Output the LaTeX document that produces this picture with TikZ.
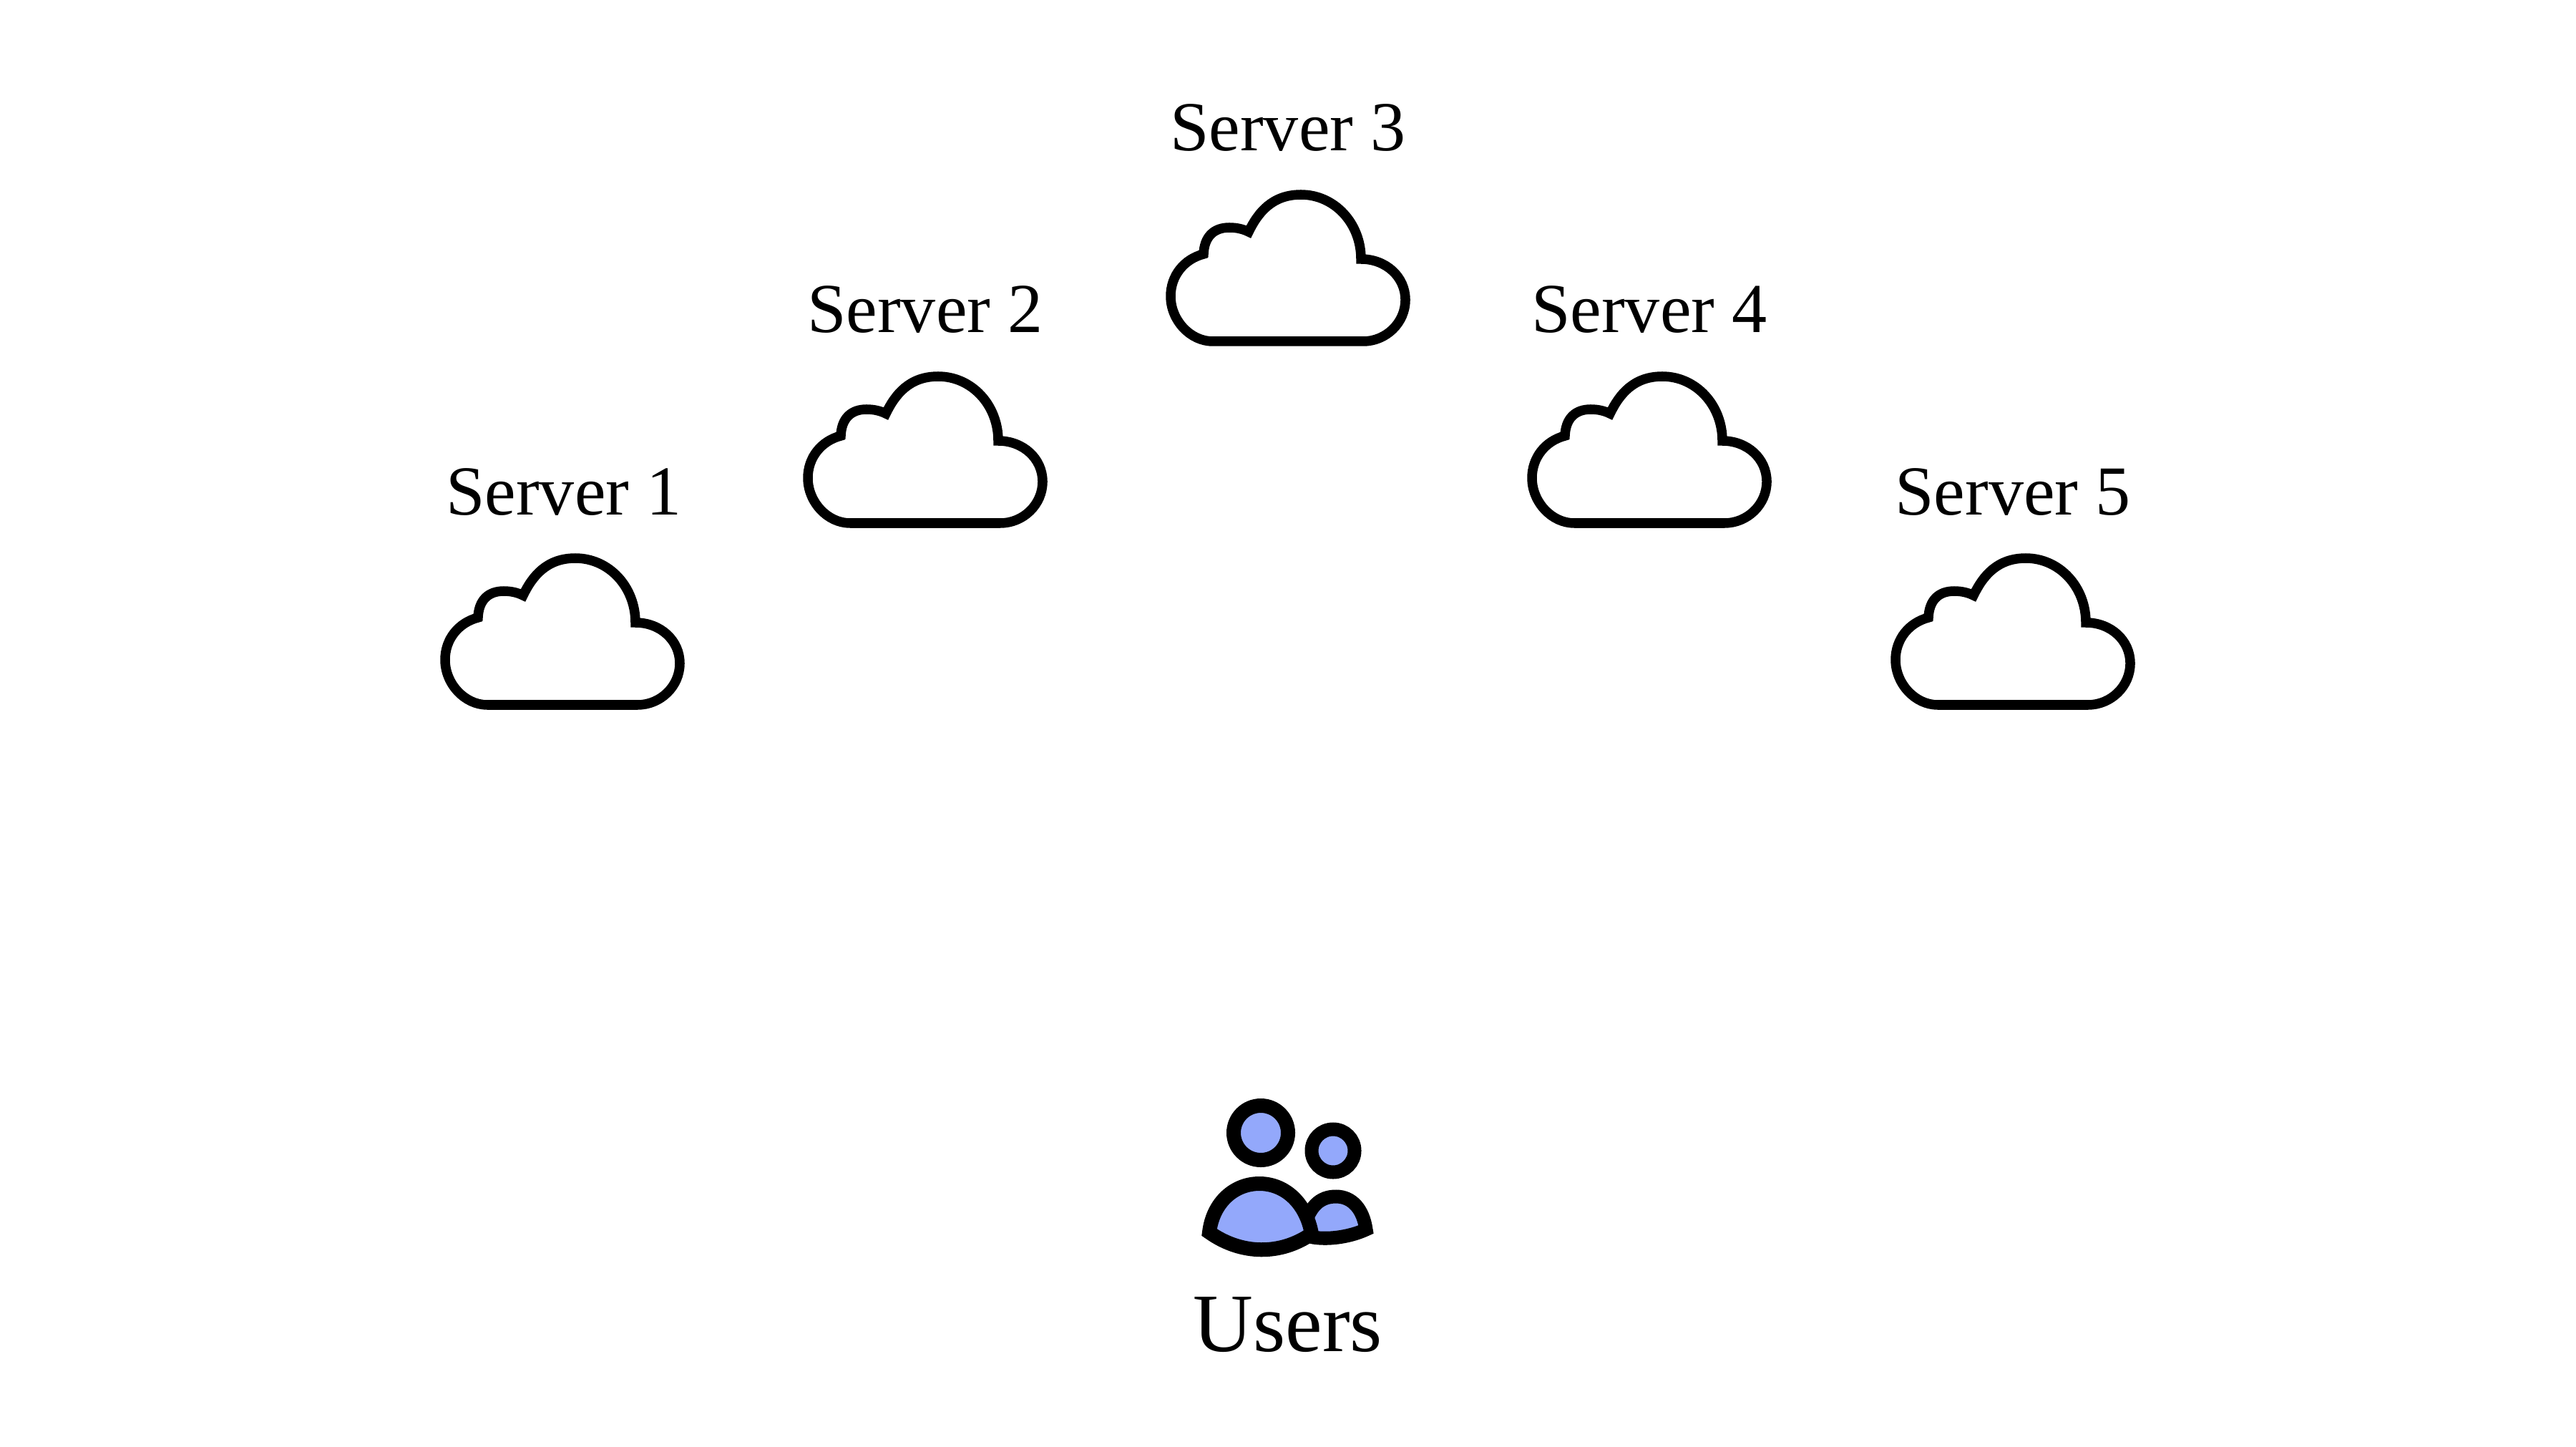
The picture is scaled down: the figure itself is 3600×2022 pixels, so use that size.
\documentclass[tikz,border=0pt]{standalone}
\usepackage{fontspec}
\setmainfont{Liberation Serif}
\definecolor{userblue}{HTML}{93A8FB}
\tikzset{
  x=0.01cm,y=-0.01cm,
  serverlabel/.style={anchor=base,inner sep=0pt,font=\fontsize{27.9}{30}\selectfont},
  userlabel/.style={anchor=base,inner sep=0pt,font=\fontsize{33}{36}\selectfont},
  cloudline/.style={draw=black,line width=0.135cm,line join=miter,fill=white},
  userline/.style={draw=black,fill=userblue,line join=miter,miter limit=10}
}
\newcommand{\cloudicon}[2]{%
  \begin{scope}[shift={(#1,#2)},y=0.01cm]
    \draw[cloudline] (-105,0) -- (105,0)
      .. controls (137,0) and (164,26) .. (164,58)
      .. controls (164,90) and (137,115) .. (102,115)
      .. controls (102,165) and (65,205) .. (18,205)
      .. controls (-22,205) and (-42,180) .. (-55,153)
      .. controls (-63,157) and (-72,159) .. (-82,159)
      .. controls (-104,159) and (-117,146) .. (-118,122)
      .. controls (-145,115) and (-164,92) .. (-164,63)
      .. controls (-164,30) and (-137,0) .. (-105,0) -- cycle;
  \end{scope}}
\begin{document}
\begin{tikzpicture}
\useasboundingbox (0,0) rectangle (3600,2022);
\cloudicon{786}{985}
\cloudicon{1293}{731}
\cloudicon{1800}{477}
\cloudicon{2305}{731}
\cloudicon{2813}{985}
\node[serverlabel] (s1) at (788,719) {Server 1};
\node[serverlabel] (s2) at (1293,465) {Server 2};
\node[serverlabel] (s3) at (1800,211) {Server 3};
\node[serverlabel] (s4) at (2305,465) {Server 4};
\node[serverlabel] (s5) at (2813,719) {Server 5};
% users icon
\draw[userline,line width=0.19cm] (1820,1725)
  .. controls (1828,1685) and (1845,1672) .. (1867,1672)
  .. controls (1890,1672) and (1905,1690) .. (1909,1718)
  .. controls (1890,1727) and (1860,1733) .. (1835,1729) -- cycle;
\draw[userline,line width=0.2cm] (1690,1722)
  .. controls (1695,1680) and (1725,1654) .. (1760,1654)
  .. controls (1795,1654) and (1825,1680) .. (1833,1724)
  .. controls (1790,1754) and (1735,1754) .. (1690,1722) -- cycle;
\draw[userline,line width=0.2cm] (1762,1583) circle[radius=38];
\draw[userline,line width=0.19cm] (1863,1608) circle[radius=30];
\node[userlabel] (users) at (1800,1888) {Users};
\end{tikzpicture}
\end{document}
